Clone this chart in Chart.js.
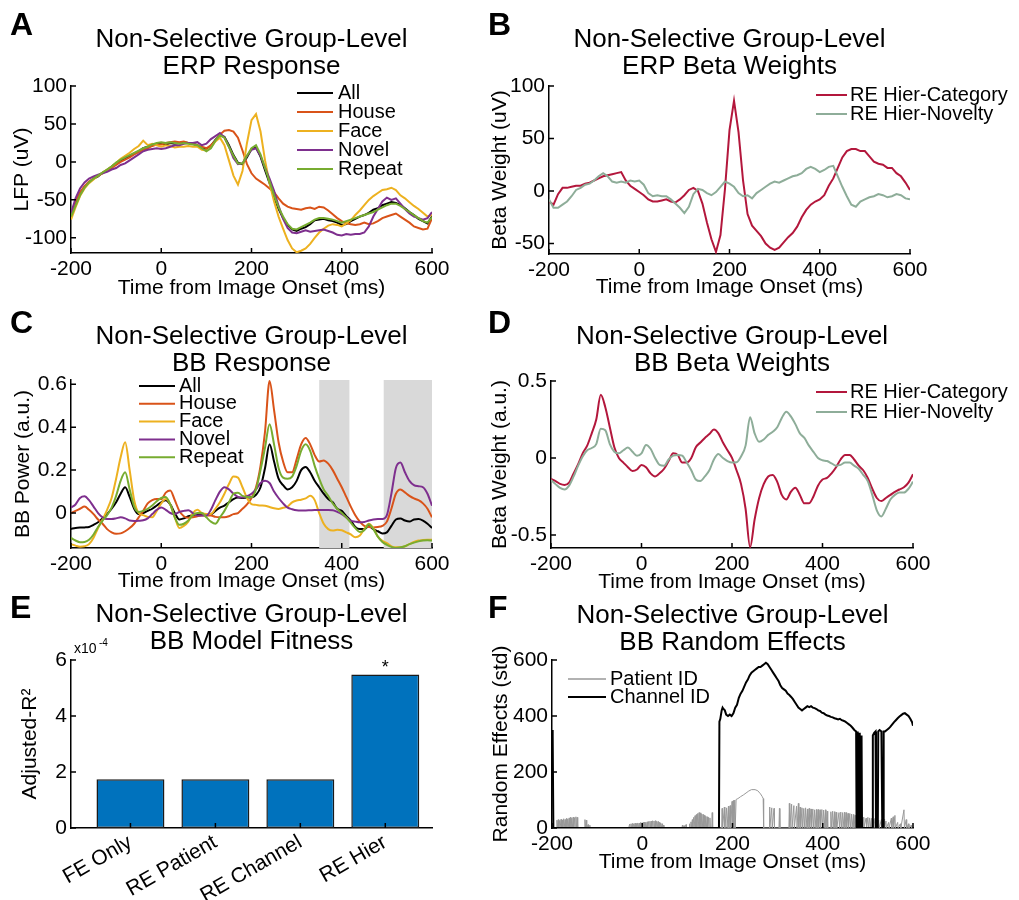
<!DOCTYPE html>
<html><head><meta charset="utf-8">
<script src="https://cdn.jsdelivr.net/npm/chart.js@4/dist/chart.umd.min.js"></script>
<style>
html,body{margin:0;padding:0;background:#fff;}
body{width:1019px;height:900px;position:relative;overflow:hidden;}
canvas{position:absolute;}
</style></head>
<body>
<canvas id="cA" width="478" height="305" style="left:0px;top:0px"></canvas>
<canvas id="cB" width="541" height="305" style="left:478px;top:0px"></canvas>
<canvas id="cC" width="478" height="300" style="left:0px;top:300px"></canvas>
<canvas id="cD" width="541" height="300" style="left:478px;top:300px"></canvas>
<canvas id="cE" width="478" height="320" style="left:0px;top:580px"></canvas>
<canvas id="cF" width="541" height="320" style="left:478px;top:580px"></canvas>
<script>
// ---------------- DATA ----------------
const timeMs = [-200,-190,-180,-170,-160,-150,-140,-130,-120,-110,
-100,-90,-80,-70,-60,-50,-40,-30,-20,-10,
0,10,20,30,40,50,60,70,80,90,
100,110,120,130,140,150,160,170,180,190,
200,210,220,230,240,250,260,270,280,290,
300,310,320,330,340,350,360,370,380,390,
400,410,420,430,440,450,460,470,480,490,
500,510,520,530,540,550,560,570,580,590,
600];
const timeTicks = [-200,0,200,400,600];

// Panel A: ERP response (uV)
const erpAll = [-70,-55,-42,-33,-27,-22,-19,-14,-11,-6,
-2,2,4,8,11,14,18,20,22,24,
24,23,25,24,25,26,25,24,22,18,
17,21,29,35,33,22,9,-1,-3,6,
17,19,7,-11,-28,-46,-62,-74,-83,-89,
-91,-88,-86,-82,-77,-76,-75,-77,-78,-80,
-83,-82,-78,-75,-72,-70,-67,-63,-61,-57,
-55,-53,-54,-57,-61,-66,-70,-75,-78,-81,
-72];
const erpHouse = [-68,-52,-40,-32,-26,-22,-18,-15,-11,-8,
-4,0,3,6,10,13,16,18,21,23,
23,25,26,27,26,27,25,24,22,20,
18,22,28,36,41,42,40,32,15,-3,
-15,-22,-26,-30,-35,-40,-48,-55,-59,-61,
-62,-63,-61,-60,-62,-59,-60,-64,-69,-74,
-78,-81,-82,-83,-82,-80,-82,-81,-78,-74,
-72,-70,-68,-72,-76,-80,-85,-87,-89,-88,
-74];
const erpFace = [-76,-60,-45,-35,-28,-23,-18,-14,-10,-6,
-1,4,8,12,17,21,28,22,24,22,
20,22,21,19,20,20,21,20,20,16,
15,19,27,32,22,2,-18,-30,-12,25,
55,63,40,2,-28,-52,-72,-88,-103,-114,
-119,-117,-114,-108,-100,-93,-88,-84,-82,-83,
-85,-81,-77,-70,-64,-57,-50,-45,-41,-37,
-36,-34,-37,-44,-48,-53,-58,-62,-67,-72,
-70];
const erpNovel = [-68,-48,-35,-27,-22,-19,-17,-15,-13,-10,
-8,-4,-2,2,6,10,14,16,17,18,
17,18,20,22,22,24,25,25,26,22,
24,30,34,38,32,20,5,-3,-2,8,
16,18,8,-8,-22,-38,-58,-75,-87,-93,
-94,-92,-90,-92,-91,-90,-89,-91,-93,-96,
-97,-95,-96,-95,-95,-93,-85,-72,-62,-52,
-47,-50,-48,-55,-62,-68,-72,-74,-76,-74,
-66];
const erpRepeat = [-72,-58,-44,-34,-27,-22,-18,-14,-10,-6,
-1,3,6,9,12,15,18,20,23,25,
26,25,26,25,24,25,24,23,22,18,
14,18,28,35,32,20,8,-2,-2,8,
18,22,10,-8,-26,-44,-60,-72,-82,-88,
-89,-86,-83,-80,-76,-74,-74,-75,-76,-78,
-80,-78,-76,-74,-72,-70,-68,-66,-63,-60,
-57,-55,-55,-58,-62,-66,-70,-74,-78,-80,
-73];
const erpYTicks = [-100,-50,0,50,100];

// Panel B: ERP beta weights (uV)
const erpBetaCategory = [-10,-13,-3,3,3,4,5,5,7,8,
10,12,14,15,16,17,18,10,5,2,
-1,-4,-8,-10,-10,-9,-8,-10,-11,-8,
-4,1,3,0,-12,-30,-46,-58,-42,2,
58,86,56,10,-22,-33,-38,-43,-50,-54,
-56,-54,-49,-44,-40,-34,-25,-18,-13,-10,
-8,-4,5,12,22,32,38,40,40,38,
38,33,28,26,25,22,22,17,14,8,
1];
const erpBetaNovelty = [-8,-16,-16,-13,-10,-5,1,3,6,7,
10,14,17,14,9,8,9,8,10,9,
10,6,-2,-5,-4,-5,-5,-8,-12,-16,
-21,-15,-3,2,1,-2,-4,-1,4,9,
7,4,-2,-5,-4,-7,-2,1,4,7,
9,8,10,12,14,15,17,21,23,21,
18,20,23,24,14,4,-5,-13,-15,-10,
-8,-6,-5,-3,-4,-6,-5,-3,-4,-7,
-8];
const betaYTicks = [-50,0,50,100];

// Panel C: BB response (a.u.)
const bbAll = [-0.074,-0.070,-0.068,-0.067,-0.065,-0.055,-0.043,-0.025,-0.005,0.02,
0.05,0.09,0.12,0.075,0.02,-0.005,0.0,0.01,0.02,0.035,
0.05,0.06,0.04,0.0,-0.03,-0.025,-0.015,-0.01,-0.005,-0.005,
-0.005,-0.005,0.01,0.025,0.035,0.05,0.065,0.072,0.07,0.072,
0.073,0.085,0.12,0.21,0.32,0.24,0.16,0.13,0.11,0.12,
0.15,0.2,0.215,0.19,0.15,0.12,0.09,0.065,0.05,0.02,
0.01,-0.015,-0.035,-0.065,-0.075,-0.075,-0.06,-0.075,-0.085,-0.095,
-0.09,-0.06,-0.03,-0.025,-0.035,-0.04,-0.03,-0.028,-0.035,-0.05,
-0.07];
const bbHouse = [0.0,0.01,0.02,0.03,0.015,-0.005,-0.03,-0.05,-0.075,-0.09,
-0.097,-0.095,-0.085,-0.07,-0.05,-0.02,0.01,0.045,0.06,0.065,
0.065,0.095,0.105,0.06,0.01,-0.015,-0.022,-0.02,-0.015,-0.012,
-0.012,-0.012,-0.018,-0.02,-0.02,-0.015,-0.005,0.0,0.02,0.04,
0.07,0.12,0.22,0.38,0.615,0.48,0.33,0.24,0.19,0.19,
0.25,0.32,0.35,0.32,0.27,0.24,0.245,0.23,0.2,0.16,
0.12,0.075,0.03,-0.01,-0.04,-0.06,-0.065,-0.067,-0.065,-0.06,
-0.04,0.02,0.09,0.11,0.096,0.08,0.068,0.06,0.045,0.02,
-0.02];
const bbFace = [-0.145,-0.152,-0.157,-0.155,-0.145,-0.115,-0.07,-0.03,0.015,0.07,
0.16,0.26,0.33,0.2,0.06,0.0,-0.01,-0.018,-0.02,0.01,
0.045,0.065,0.04,-0.02,-0.07,-0.06,-0.04,0.0,0.015,0.0,
-0.005,-0.005,0.02,0.05,0.09,0.135,0.17,0.165,0.12,0.07,
0.042,0.038,0.035,0.034,0.028,0.022,0.019,0.025,0.03,0.05,
0.058,0.062,0.068,0.08,0.06,0.0,-0.05,-0.075,-0.082,-0.078,
-0.08,-0.09,-0.1,-0.113,-0.105,-0.075,-0.05,-0.07,-0.11,-0.13,
-0.14,-0.155,-0.16,-0.16,-0.155,-0.145,-0.135,-0.128,-0.126,-0.125,
-0.125];
const bbNovel = [0.026,0.04,0.07,0.078,0.06,0.03,0.0,-0.02,-0.028,-0.028,
-0.025,-0.02,-0.025,-0.035,-0.037,-0.036,-0.034,-0.025,-0.005,0.015,
0.026,0.015,0.0,-0.005,0.005,0.01,0.013,0.0,-0.012,-0.012,
-0.012,0.015,0.06,0.1,0.12,0.11,0.09,0.075,0.072,0.078,
0.09,0.11,0.14,0.15,0.14,0.1,0.07,0.045,0.025,0.018,
0.013,0.012,0.012,0.013,0.014,0.014,0.014,0.014,0.013,0.005,
-0.005,-0.02,-0.035,-0.04,-0.043,-0.042,-0.035,-0.03,-0.028,-0.028,
-0.01,0.09,0.21,0.235,0.19,0.15,0.13,0.125,0.12,0.09,
0.034];
const bbRepeat = [-0.116,-0.128,-0.136,-0.135,-0.125,-0.1,-0.065,-0.035,-0.01,0.025,
0.08,0.15,0.19,0.11,0.03,0.005,0.01,0.02,0.035,0.055,
0.07,0.075,0.04,-0.02,-0.055,-0.05,-0.035,-0.01,0.0,0.0,
-0.02,-0.04,-0.05,-0.02,0.01,0.05,0.09,0.095,0.08,0.075,
0.073,0.11,0.2,0.305,0.414,0.32,0.21,0.165,0.16,0.17,
0.22,0.29,0.32,0.29,0.22,0.16,0.11,0.08,0.045,0.02,
0.0,-0.02,-0.045,-0.07,-0.088,-0.08,-0.052,-0.075,-0.11,-0.135,
-0.148,-0.158,-0.163,-0.16,-0.155,-0.145,-0.138,-0.132,-0.128,-0.127,
-0.128];
const bbYTicks = [0,0.2,0.4,0.6];
const bbShadedWindows = [[350,417],[493,600]];

// Panel D: BB beta weights (a.u.)
const bbBetaCategory = [-0.136,-0.15,-0.168,-0.175,-0.16,-0.1,-0.04,0.03,0.08,0.16,
0.25,0.41,0.33,0.2,0.07,0.0,-0.03,-0.06,-0.085,-0.075,
-0.045,-0.06,-0.1,-0.12,-0.1,-0.07,-0.02,0.03,0.02,-0.03,
-0.03,0.0,0.07,0.1,0.13,0.155,0.185,0.16,0.1,0.05,
0.0,-0.08,-0.17,-0.33,-0.58,-0.4,-0.26,-0.17,-0.12,-0.11,
-0.155,-0.24,-0.27,-0.22,-0.193,-0.24,-0.295,-0.295,-0.25,-0.18,
-0.14,-0.13,-0.1,-0.06,-0.01,0.02,0.02,-0.01,-0.05,-0.08,
-0.13,-0.2,-0.26,-0.28,-0.26,-0.24,-0.22,-0.205,-0.19,-0.16,
-0.106];
const bbBetaNovelty = [-0.143,-0.17,-0.195,-0.205,-0.18,-0.12,-0.05,0.01,0.05,0.065,
0.09,0.19,0.18,0.09,0.04,0.03,0.05,0.068,0.04,0.015,
0.03,0.085,0.06,0.0,-0.045,-0.05,-0.01,0.015,0.02,0.015,
-0.03,-0.08,-0.14,-0.15,-0.12,-0.08,-0.01,0.025,0.0,-0.02,
-0.03,-0.028,0.01,0.08,0.265,0.16,0.105,0.12,0.15,0.17,
0.2,0.26,0.3,0.27,0.22,0.16,0.13,0.08,0.04,0.0,
-0.015,-0.02,-0.035,-0.05,-0.045,-0.03,-0.03,-0.05,-0.07,-0.11,
-0.15,-0.24,-0.34,-0.38,-0.33,-0.27,-0.24,-0.225,-0.225,-0.2,
-0.154];
const bbBetaYTicks = [-0.5,0,0.5];

// Panel E: model fitness
const modelNames = ['FE Only','RE Patient','RE Channel','RE Hier'];
const modelPositions = [1,2,3,4];
const modelAdjR2 = [1.74e-4,1.74e-4,1.74e-4,5.48e-4];
const modelSignificance = ['','','','*'];
const fitYTicks = [0,2e-4,4e-4,6e-4];

// Panel F: random effects (std), [time ms, value]
const patientIdSamples = [[-200,0],[-198,68],[-197,0],
[-190,0],[-189,28],[-188,0],[-186,30],[-185,0],[-183,27],[-182,0],[-180,31],[-179,0],[-177,29],[-176,0],[-174,33],[-173,0],[-171,30],[-170,0],[-168,34],[-167,0],[-165,32],[-164,0],[-162,36],[-161,0],[-159,38],[-158,0],[-156,35],[-155,0],[-153,39],[-152,0],[-150,37],[-149,0],[-147,40],[-146,0],[-144,38],[-143,0],
[-128,0],[-127,30],[-126,0],[-124,28],[-123,0],[-120,12],[-119,0],[-116,10],[-115,0],
[-30,0],[-28,14],[-27,0],[-25,15],[-24,0],[-22,16],[-21,0],[-19,15],[-18,0],[-16,17],[-15,0],[-13,16],[-12,0],[-10,18],[-9,0],[-7,17],[-6,0],[-4,19],[-3,0],[-1,18],[0,0],[2,20],[3,0],[5,21],[6,0],[8,20],[9,0],[11,22],[12,0],[14,23],[15,0],[17,24],[18,0],[20,25],[21,0],[23,26],[24,0],[26,25],[27,0],[29,26],[30,0],[32,24],[33,0],[35,23],[36,0],[38,20],[39,0],[41,18],[42,0],[44,15],[45,0],[47,10],[48,0],
[88,0],[89,10],[90,0],[93,8],[94,0],[97,12],[98,0],
[104,0],[105,15],[106,0],[108,22],[109,0],[111,30],[112,0],[114,38],[115,0],[117,44],[118,0],[120,48],[121,0],[123,52],[124,0],[126,55],[127,0],[129,54],[130,0],[132,50],[133,0],[135,48],[136,0],[138,45],[139,0],[141,42],[142,0],[144,40],[145,0],[147,38],[148,0],[150,36],[151,0],[154,0],[155,55],[156,0],
[176,0],[177,70],[178,0],[182,75],[183,0],[187,72],[188,0],[191,78],[192,0],[195,80],[196,0],[199,95],[200,0],[202,98],[203,0],[205,100],[206,0],[208,102],
[212,105],[218,112],[224,118],[230,125],[236,132],[242,137],[250,137],[256,133],[262,122],[266,112],[268,105],[269,0],
[281,0],[282,75],[283,0],[287,72],[288,0],[292,70],[293,0],[303,0],[304,70],[305,0],
[325,0],[326,88],[327,0],[331,85],[332,0],[336,80],[337,0],[342,78],[343,0],[346,88],[347,0],[350,75],[351,0],[354,72],[355,0],[358,70],[359,0],[362,72],[363,0],[366,68],[367,0],[370,70],[371,0],[374,68],[375,0],[378,68],[379,0],[382,65],[383,0],[386,66],[387,0],[390,66],[391,0],[394,65],[395,0],[398,66],[399,0],[402,64],[403,0],[406,65],[407,0],[410,60],[411,0],
[417,0],[418,58],[419,0],[422,60],[423,0],[426,58],[427,0],[430,56],[431,0],[436,55],[437,0],[440,57],[441,0],[444,55],[445,0],[448,56],[449,0],[452,55],[453,0],[456,52],[457,0],[460,52],[461,0],[464,50],[465,0],[468,48],[469,0],[472,45],[473,0],[478,42],[479,0],[484,40],[485,0],[490,38],[491,0],[496,35],[497,0],[500,38],[501,0],[504,36],[505,0],[508,34],[509,0],[512,30],[513,0],[516,35],[517,0],[520,30],[521,0],[524,28],[525,0],[530,30],[531,0],[536,32],[537,0],[540,25],[541,0],[546,20],[547,0],[552,35],[553,0],[556,40],[557,0],[560,45],[561,0],[566,20],[567,0],[572,15],[573,0],[580,65],[581,0],[585,30],[586,0],[590,15],[591,0],[596,10],[597,0],[600,0]];
const channelIdSamples = [[-200,350],[-199,345],[-198,330],[-197,0],[170,0],[171,380],[173,390],[176,420],[178,430],[180,425],[183,420],[186,405],[190,400],[194,405],[198,400],[202,410],[206,430],[210,440],[214,465],[218,480],[222,490],[226,505],[230,520],[234,530],[238,545],[242,555],[246,560],[250,565],[254,570],[258,575],[262,575],[266,580],[270,585],[274,590],[278,585],[282,575],[286,565],[290,555],[294,545],[298,535],[302,525],[306,510],[310,500],[314,495],[318,490],[322,480],[326,475],[330,468],[334,460],[338,450],[342,440],[346,430],[350,425],[354,420],[358,425],[362,430],[366,435],[370,432],[374,435],[378,430],[382,428],[386,425],[390,420],[394,418],[398,412],[402,410],[406,405],[410,402],[414,400],[418,397],[422,395],[426,392],[430,390],[434,388],[438,390],[442,385],[446,383],[450,380],[454,375],[458,370],[462,365],[466,358],[470,350],[474,345],[475,0],[476,0],[477,345],[478,340],[479,0],[481,0],[482,340],[483,0],[485,0],[486,330],[487,0],[510,0],[511,330],[514,340],[517,345],[518,0],[522,0],[523,345],[526,350],[530,345],[532,0],[534,0],[535,345],[538,345],[542,350],[546,355],[550,362],[554,370],[558,378],[562,385],[566,392],[570,398],[574,403],[578,408],[582,410],[586,405],[590,400],[594,390],[598,378],[600,365]];
const reYTicks = [0,200,400,600];

// ---------------- HELPERS ----------------
const FONT = "'Liberation Sans', Arial, Helvetica, sans-serif";
const TICK_FONT = {family: FONT, size: 21};
const AX_FONT = {family: FONT, size: 21, lineHeight: 1.2};
const AX_LH = 25.2;
const TITLE_FS = 26, TITLE_LH = 26.5;

const pts = (xs, ys) => xs.map((x, i) => ({x: x, y: ys[i]}));
const pairs = arr => arr.map(p => ({x: p[0], y: p[1]}));

const inTicks = {
  id: 'inTicks',
  afterDatasetsDraw(chart) {
    const {ctx, chartArea: a, scales} = chart;
    const x = scales.x, y = scales.y;
    ctx.save();
    ctx.strokeStyle = '#000'; ctx.lineWidth = 1.5;
    ctx.beginPath();
    x.ticks.forEach(t => { const p = x.getPixelForValue(t.value); ctx.moveTo(p, a.bottom); ctx.lineTo(p, a.bottom - 5); });
    y.ticks.forEach(t => { const p = y.getPixelForValue(t.value); ctx.moveTo(a.left, p); ctx.lineTo(a.left + 5, p); });
    ctx.stroke();
    ctx.restore();
  }
};

const decor = {
  id: 'decor',
  beforeDatasetsDraw(chart, args, o) {
    if (!o.shade) return;
    const {ctx, chartArea: a, scales: {x}} = chart;
    ctx.save();
    ctx.fillStyle = '#d9d9d9';
    o.shade.forEach(r => {
      const x0 = x.getPixelForValue(r[0]), x1 = x.getPixelForValue(r[1]);
      ctx.fillRect(x0, a.top, x1 - x0, a.bottom - a.top);
    });
    ctx.restore();
  },
  afterDraw(chart, args, o) {
    const ctx = chart.ctx;
    ctx.save();
    ctx.fillStyle = '#000';
    ctx.textAlign = 'left'; ctx.textBaseline = 'alphabetic';
    ctx.font = 'bold 32px ' + FONT;
    ctx.fillText(o.letter, o.letterX, o.letterY);
    if (o.legend) {
      const lg = o.legend;
      ctx.font = '20px ' + FONT;
      ctx.textBaseline = 'middle';
      chart.data.datasets.forEach((ds, k) => {
        const yy = lg.y + k * lg.dy;
        ctx.strokeStyle = ds.borderColor; ctx.lineWidth = Math.max(ds.borderWidth, 1.5);
        ctx.beginPath(); ctx.moveTo(lg.x, yy); ctx.lineTo(lg.x + lg.len, yy); ctx.stroke();
        ctx.fillStyle = '#000';
        ctx.fillText(ds.label, lg.x + lg.len + lg.gap, yy);
      });
    }
    if (o.texts) {
      o.texts.forEach(t => {
        ctx.font = t.size + 'px ' + FONT;
        ctx.textBaseline = 'alphabetic'; ctx.textAlign = 'left';
        ctx.fillStyle = '#000';
        ctx.fillText(t.text, t.x, t.y);
      });
    }
    if (o.marks) {
      const {x, y} = chart.scales;
      ctx.font = '18px ' + FONT;
      ctx.textAlign = 'center'; ctx.textBaseline = 'alphabetic';
      o.marks.labels.forEach((m, i) => {
        if (!m) return;
        ctx.fillText(m, x.getPixelForValue(o.marks.xs[i]), y.getPixelForValue(o.marks.ys[i]) - 2);
      });
    }
    ctx.restore();
  }
};

function axis(L, isX, o) {
  return {
    type: 'linear',
    position: isX ? 'bottom' : 'left',
    min: o.min, max: o.max, offset: false,
    grid: {display: false, drawTicks: false},
    border: {display: true, color: '#000', width: 1.5},
    ticks: {font: TICK_FONT, color: '#000', padding: (o.pad !== undefined ? o.pad : 4), autoSkip: false,
            maxRotation: o.rot || 0, minRotation: o.rot || 0,
            callback: o.fmt || (v => String(v))},
    afterBuildTicks: s => { s.ticks = o.tickValues.map(v => ({value: v})); },
    title: o.title ? {display: true, text: o.title, font: AX_FONT, color: '#000',
      padding: isX ? {top: 0, bottom: L.h - L.xTitleY - AX_LH / 2} : {top: L.yTitleX - AX_LH / 2, bottom: 0}} : {display: false},
    afterFit: s => { if (isX) { s.height = L.h - L.b; } else { s.width = L.l; } }
  };
}

function make(id, L, type, datasets, xo, yo, deco) {
  const padTop = L.title1Y - TITLE_LH / 2;
  return new Chart(document.getElementById(id), {
    type: type,
    data: {datasets: datasets},
    options: {
      responsive: false, animation: false, devicePixelRatio: 1,
      layout: {padding: {left: 0, top: padTop, right: L.w - L.r, bottom: 0}},
      plugins: {
        legend: {display: false}, tooltip: {enabled: false},
        title: {display: true, text: L.title, fullSize: false, color: '#000',
          font: {family: FONT, size: TITLE_FS, lineHeight: TITLE_LH / TITLE_FS, weight: 'normal'},
          padding: {top: 0, bottom: L.t - padTop - 2 * TITLE_LH}},
        decor: deco
      },
      scales: {x: axis(L, true, xo), y: axis(L, false, yo)}
    },
    plugins: [decor, inTicks]
  });
}

function line(label, color, xs, ys, width, order, smooth) {
  return {label: label, data: pts(xs, ys), borderColor: color, backgroundColor: color,
    borderWidth: width, pointRadius: 0, fill: false, order: order,
    tension: 0, cubicInterpolationMode: smooth ? 'monotone' : 'default'};
}

const C_ALL = '#000000', C_HOUSE = '#D95319', C_FACE = '#EDB120', C_NOVEL = '#7E2F8E', C_REPEAT = '#77AC30';
const C_CAT = '#B3173C', C_NOV = '#8EAD99';
const TITLE1 = 'Non-Selective Group-Level';
const XT = 'Time from Image Onset (ms)';

// ---------------- PANEL A ----------------
make('cA', {w:478,h:305,l:71,t:86,r:432,b:253,title1Y:40,xTitleY:288,yTitleX:22, title:[TITLE1,'ERP Response']}, 'line', [
  line('All', C_ALL, timeMs, erpAll, 2, 5),
  line('House', C_HOUSE, timeMs, erpHouse, 2, 4),
  line('Face', C_FACE, timeMs, erpFace, 2, 3),
  line('Novel', C_NOVEL, timeMs, erpNovel, 2, 2),
  line('Repeat', C_REPEAT, timeMs, erpRepeat, 2, 1)
], {min:-200,max:600,tickValues:timeTicks,title:XT}, {min:-120,max:100,tickValues:erpYTicks,title:'LFP (uV)'},
{letter:'A', letterX:10, letterY:35, legend:{x:297,y:93,dy:19,len:36,gap:5}});

// ---------------- PANEL B ----------------
make('cB', {w:541,h:305,l:71,t:86,r:432,b:254,title1Y:40,xTitleY:287,yTitleX:22, title:[TITLE1,'ERP Beta Weights']}, 'line', [
  line('RE Hier-Category', C_CAT, timeMs, erpBetaCategory, 2, 2),
  line('RE Hier-Novelty', C_NOV, timeMs, erpBetaNovelty, 2, 1)
], {min:-200,max:600,tickValues:timeTicks,title:XT}, {min:-60,max:100,tickValues:betaYTicks,title:'Beta Weight (uV)'},
{letter:'B', letterX:10, letterY:35, legend:{x:338,y:95,dy:19,len:31,gap:3}});

// ---------------- PANEL C ----------------
make('cC', {w:478,h:300,l:71,t:80,r:432,b:248,title1Y:37,xTitleY:281,yTitleX:23, title:[TITLE1,'BB Response']}, 'line', [
  line('All', C_ALL, timeMs, bbAll, 2, 5, true),
  line('House', C_HOUSE, timeMs, bbHouse, 2, 4, true),
  line('Face', C_FACE, timeMs, bbFace, 2, 3, true),
  line('Novel', C_NOVEL, timeMs, bbNovel, 2, 2, true),
  line('Repeat', C_REPEAT, timeMs, bbRepeat, 2, 1, true)
], {min:-200,max:600,tickValues:timeTicks,title:XT}, {min:-0.163,max:0.62,tickValues:bbYTicks,title:'BB Power (a.u.)'},
{letter:'C', letterX:10, letterY:33, legend:{x:139,y:86,dy:17.8,len:36,gap:4}, shade:bbShadedWindows});

// ---------------- PANEL D ----------------
make('cD', {w:541,h:300,l:73,t:81,r:435,b:248,title1Y:37,xTitleY:282,yTitleX:22, title:[TITLE1,'BB Beta Weights']}, 'line', [
  line('RE Hier-Category', C_CAT, timeMs, bbBetaCategory, 2, 2, true),
  line('RE Hier-Novelty', C_NOV, timeMs, bbBetaNovelty, 2, 1, true)
], {min:-200,max:600,tickValues:timeTicks,title:XT}, {min:-0.585,max:0.5,tickValues:bbBetaYTicks,title:'Beta Weight (a.u.)'},
{letter:'D', letterX:10, letterY:33, legend:{x:338,y:92,dy:20,len:31,gap:3}});

// ---------------- PANEL E ----------------
make('cE', {w:478,h:320,l:71,t:80,r:432,b:248,title1Y:35,yTitleX:30, title:[TITLE1,'BB Model Fitness']}, 'bar', [
  {label:'Adjusted-R²', data: pts(modelPositions, modelAdjR2), backgroundColor:'#0072BD', borderColor:'#1a1a1a',
   borderWidth:1.5, borderSkipped:false, barPercentage:0.8, categoryPercentage:1}
], {min:0.3,max:4.55,tickValues:modelPositions,rot:30,pad:2,fmt:(v => modelNames[modelPositions.indexOf(v)])},
   {min:0,max:6e-4,tickValues:fitYTicks,title:'Adjusted-R²',fmt:(v => String(Math.round(v * 1e4)))},
{letter:'E', letterX:10, letterY:38,
 texts:[{text:'x10', x:74, y:73, size:14},{text:'-4', x:99, y:66, size:10}],
 marks:{xs:modelPositions, ys:modelAdjR2, labels:modelSignificance}});

// ---------------- PANEL F ----------------
make('cF', {w:541,h:320,l:74,t:80,r:435,b:248,title1Y:36,xTitleY:282,yTitleX:23, title:[TITLE1,'BB Random Effects']}, 'line', [
  {label:'Patient ID', data: pairs(patientIdSamples), borderColor:'#999999', backgroundColor:'#999999', borderWidth:1, pointRadius:0, fill:false, tension:0, order:2},
  {label:'Channel ID', data: pairs(channelIdSamples), borderColor:'#000000', backgroundColor:'#000000', borderWidth:2, pointRadius:0, fill:false, tension:0, order:1}
], {min:-200,max:600,tickValues:timeTicks,title:XT}, {min:0,max:600,tickValues:reYTicks,title:'Random Effects (std)'},
{letter:'F', letterX:10, letterY:38, legend:{x:90,y:99,dy:18,len:38,gap:4}});
</script>
</body></html>
